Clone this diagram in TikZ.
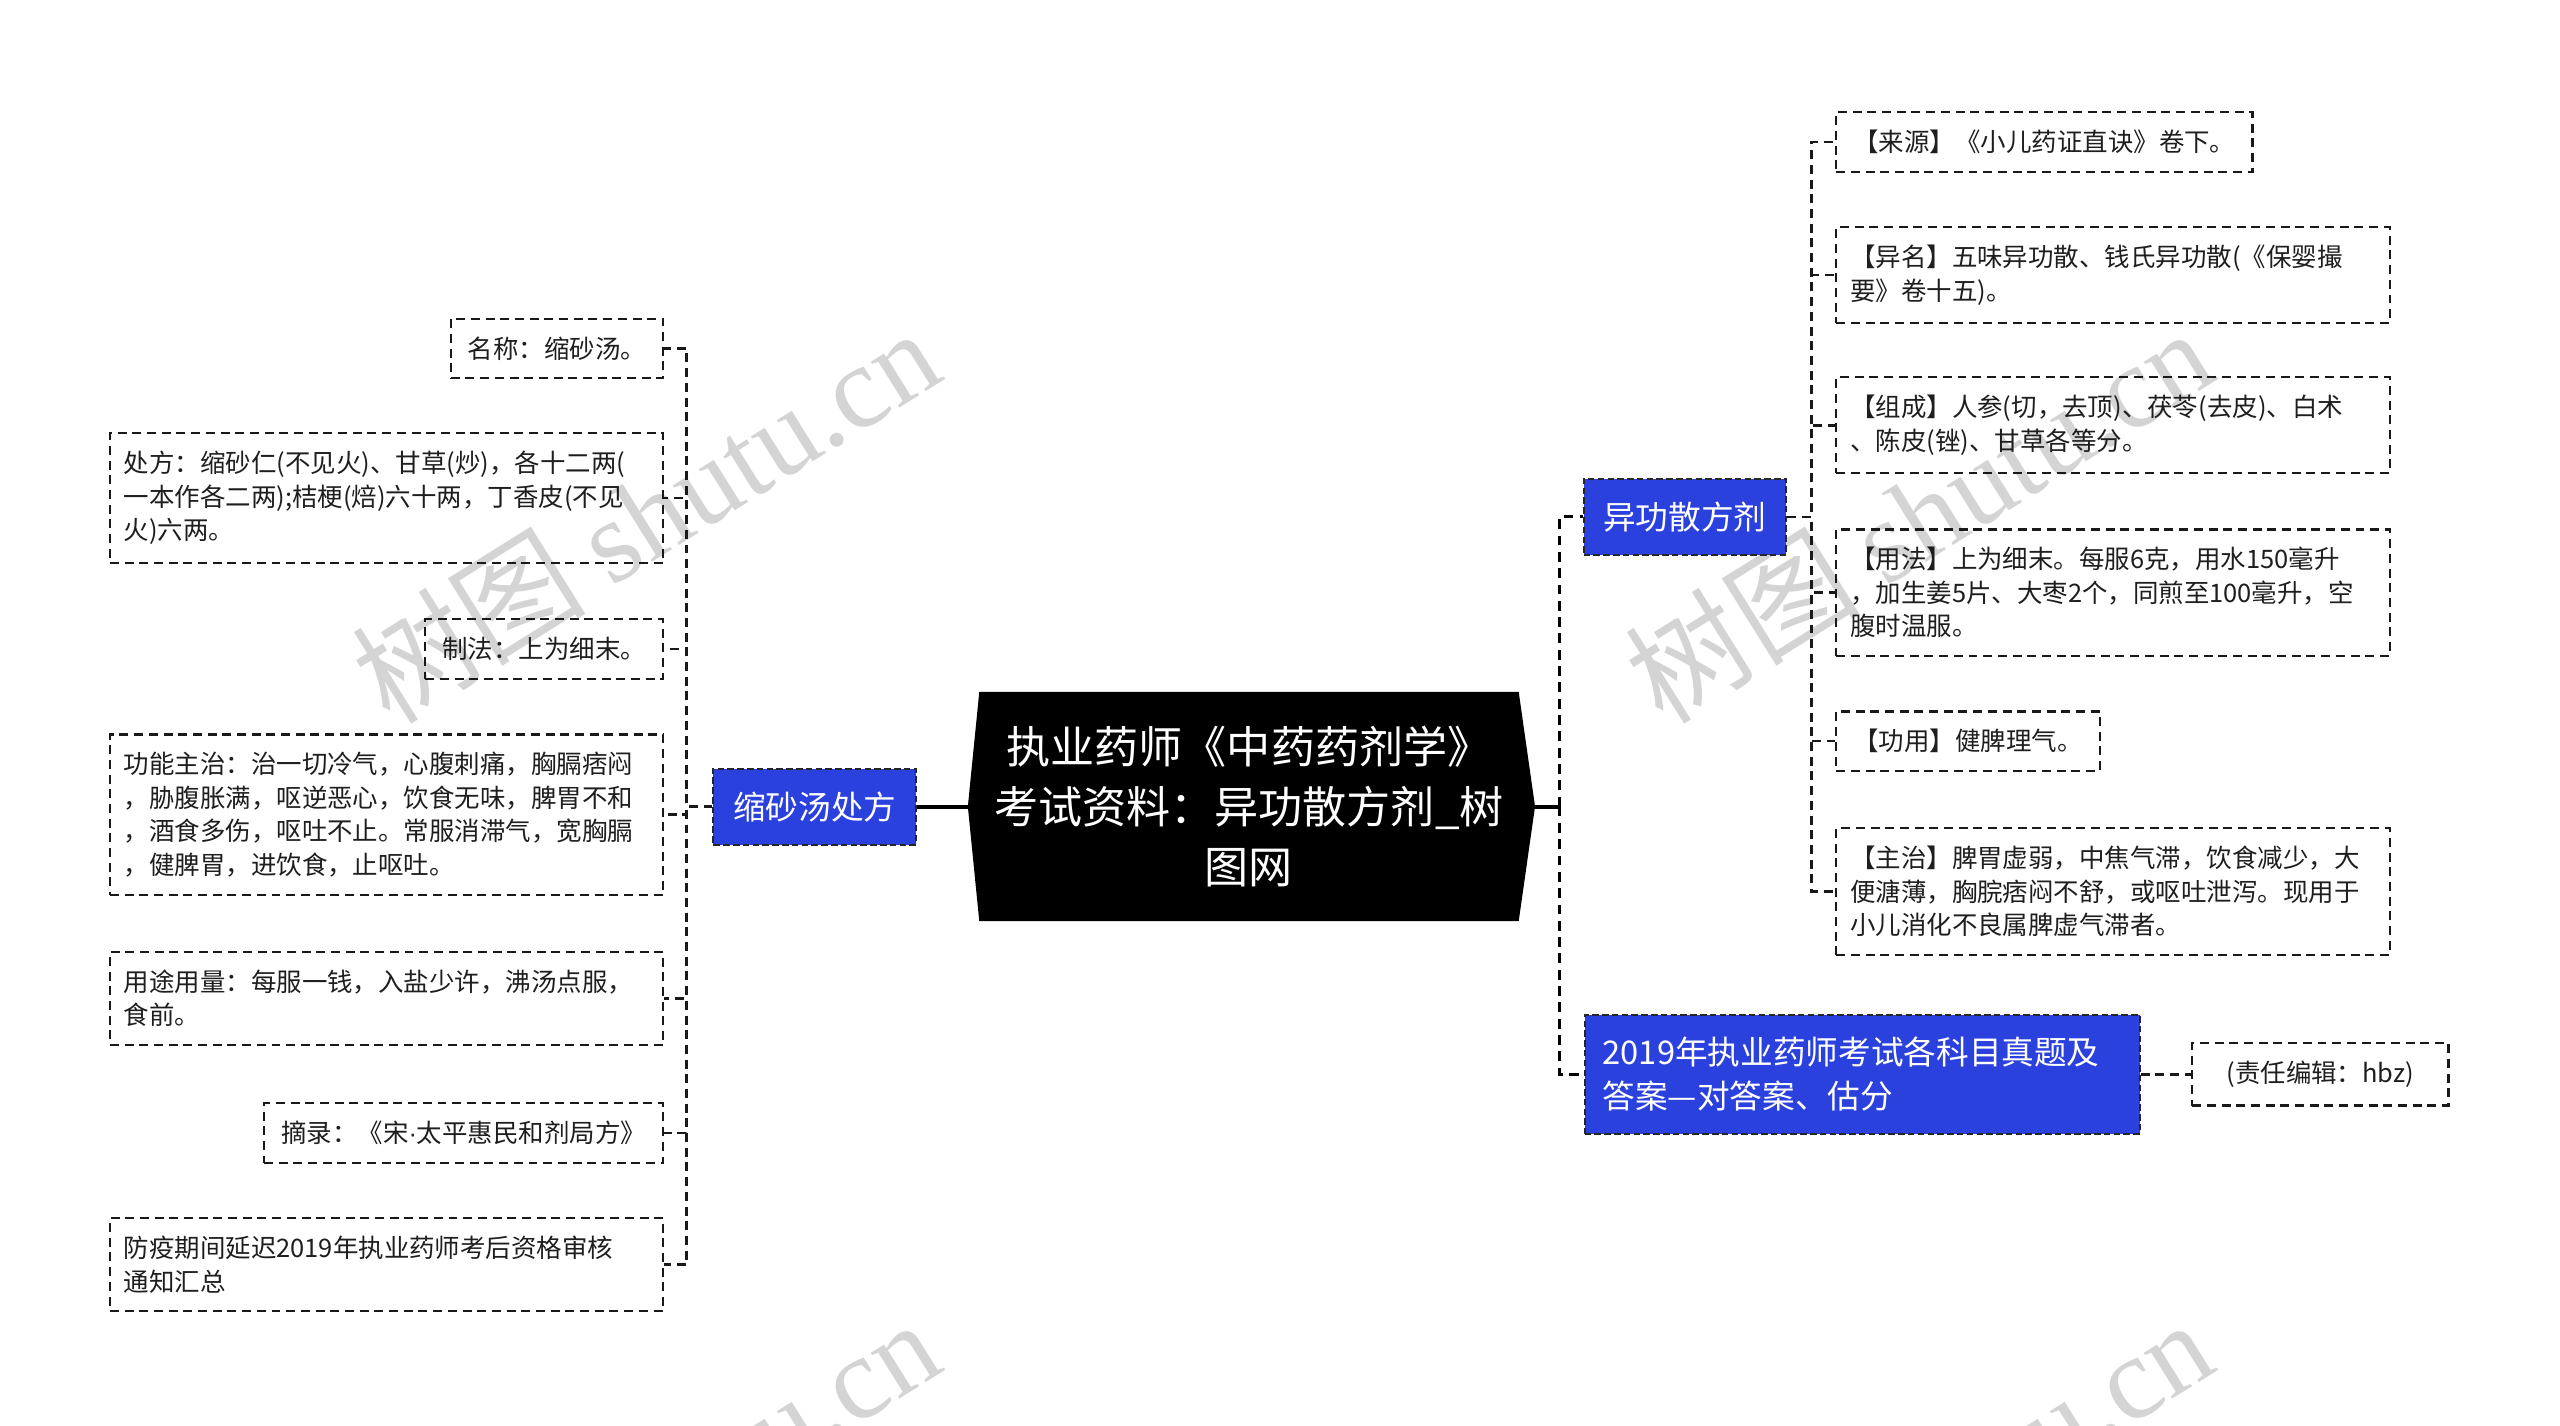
\documentclass[tikz,border=0pt]{standalone}
\usepackage{fontspec}
\setmainfont{Noto Sans CJK SC}
\newfontfamily\wmserif{Liberation Serif}
\newfontfamily\latinsans{Liberation Sans}
\usetikzlibrary{backgrounds,calc}
\definecolor{nodeblue}{RGB}{43,65,222}
\definecolor{leaftext}{RGB}{30,30,30}
\tikzset{
 leaf/.style={draw=black!90, dash pattern=on 5.5pt off 3.5pt, line width=1.4pt, text=leaftext, font=\fontsize{15.6}{20.5}\selectfont, inner xsep=10.5pt, inner ysep=11pt, align=left},
 wideleaf/.style={leaf, text width=322pt, inner xsep=8.5pt},
 bluebox/.style={fill=nodeblue, draw=black!85, dash pattern=on 4pt off 2pt, line width=1.2pt, text=white, font=\fontsize{20}{27}\selectfont, inner xsep=12pt, inner ysep=14pt, align=left},
 conn/.style={draw=black!90, dash pattern=on 5.5pt off 3.5pt, line width=1.5pt},
 trunk/.style={draw=black, dash pattern=on 6pt off 4pt, line width=2pt},
 mainline/.style={draw=black, line width=2.5pt},
 wm/.style={text=black!17, rotate=32, font=\fontsize{72}{72}\selectfont, inner sep=0pt}
}
\begin{document}
\begin{tikzpicture}[x=1pt,y=-1pt]
\useasboundingbox (0,0) rectangle (1568,873);
\begin{scope}
\clip (0,0) rectangle (1568,873);
\node[wm] (wm1) at (395,315) {树图 {\wmserif shutu.cn}};
\node[wm] (wm2) at (1175,315) {树图 {\wmserif shutu.cn}};
\node[wm] (wm3) at (395,922) {树图 {\wmserif shutu.cn}};
\node[wm] (wm4) at (1175,922) {树图 {\wmserif shutu.cn}};
\end{scope}

% central node
\node[text=white, font=\fontsize{27}{36.5}\selectfont, align=center, minimum width=330pt, minimum height=140pt, inner sep=0pt] (c) at (765,494) {执业药师《中药药剂学》\\考试资料：异功散方剂\_树\\图网};
\begin{scope}[on background layer]
\fill[black] (c.north west) -- (c.north east) -- ($(c.east)+(10,0)$) -- (c.south east) -- (c.south west) -- ($(c.west)+(-7,0)$) -- cycle;
\end{scope}

% first level
\node[bluebox] (L) at (499,494) {缩砂汤处方};
\node[bluebox] (Y) at (1032,316.5) {异功散方剂};
\node[bluebox, anchor=west, text width=318pt, inner xsep=11pt, inner ysep=13.5pt] (N) at (970,658) {2019年执业药师考试各科目真题及\\答案—对答案、估分};

% left leaves
\node[leaf, anchor=east] (l1) at (407,213.5) {名称：缩砂汤。};
\node[wideleaf, anchor=east] (l2) at (407,305) {处方：缩砂仁(不见火)、甘草(炒)，各十二两(\\一本作各二两);桔梗(焙)六十两，丁香皮(不见\\火)六两。};
\node[leaf, anchor=east] (l3) at (407,397.5) {制法：上为细末。};
\node[wideleaf, anchor=east] (l4) at (407,499) {功能主治：治一切冷气，心腹刺痛，胸膈痞闷\\，胁腹胀满，呕逆恶心，饮食无味，脾胃不和\\，酒食多伤，呕吐不止。常服消滞气，宽胸膈\\，健脾胃，进饮食，止呕吐。};
\node[wideleaf, anchor=east] (l5) at (407,611.5) {用途用量：每服一钱，入盐少许，沸汤点服，\\食前。};
\node[leaf, anchor=east] (l6) at (407,694) {摘录：《宋{\latinsans ·}太平惠民和剂局方》};
\node[wideleaf, anchor=east] (l7) at (407,774.5) {防疫期间延迟2019年执业药师考后资格审核\\通知汇总};

% right leaves
\node[leaf, anchor=west] (r1) at (1124,87) {【来源】《小儿药证直诀》卷下。};
\node[wideleaf, anchor=west] (r2) at (1124,168.5) {【异名】五味异功散、钱氏异功散(《保婴撮\\要》卷十五)。};
\node[wideleaf, anchor=west] (r3) at (1124,260.5) {【组成】人参(切，去顶)、茯苓(去皮)、白术\\、陈皮(锉)、甘草各等分。};
\node[wideleaf, anchor=west] (r4) at (1124,363) {【用法】上为细末。每服6克，用水150毫升\\，加生姜5片、大枣2个，同煎至100毫升，空\\腹时温服。};
\node[leaf, anchor=west] (r5) at (1124,454) {【功用】健脾理气。};
\node[wideleaf, anchor=west] (r6) at (1124,546) {【主治】脾胃虚弱，中焦气滞，饮食减少，大\\便溏薄，胸脘痞闷不舒，或呕吐泄泻。现用于\\小儿消化不良属脾虚气滞者。};
\node[leaf, anchor=west, minimum width=157pt, align=center] (e1) at (1342,658) {(责任编辑：hbz)};

% connectors
\draw[mainline] (c.west) -- (L.east);
\draw[mainline] (c.east) -- ++(25,0) coordinate (rj);
\draw[trunk] (rj) |- (Y.west);
\draw[trunk] (rj) |- (N.west);
\draw[conn] (N.east) -- (e1.west);

\foreach \n in {l1,l2,l3,l4,l5,l6,l7}
  \draw[conn] (L.west) -- ++(-16,0) |- (\n.east);
\foreach \n in {r1,r2,r3,r4,r5,r6}
  \draw[conn] (Y.east) -- ++(15,0) |- (\n.west);
\end{tikzpicture}
\end{document}
